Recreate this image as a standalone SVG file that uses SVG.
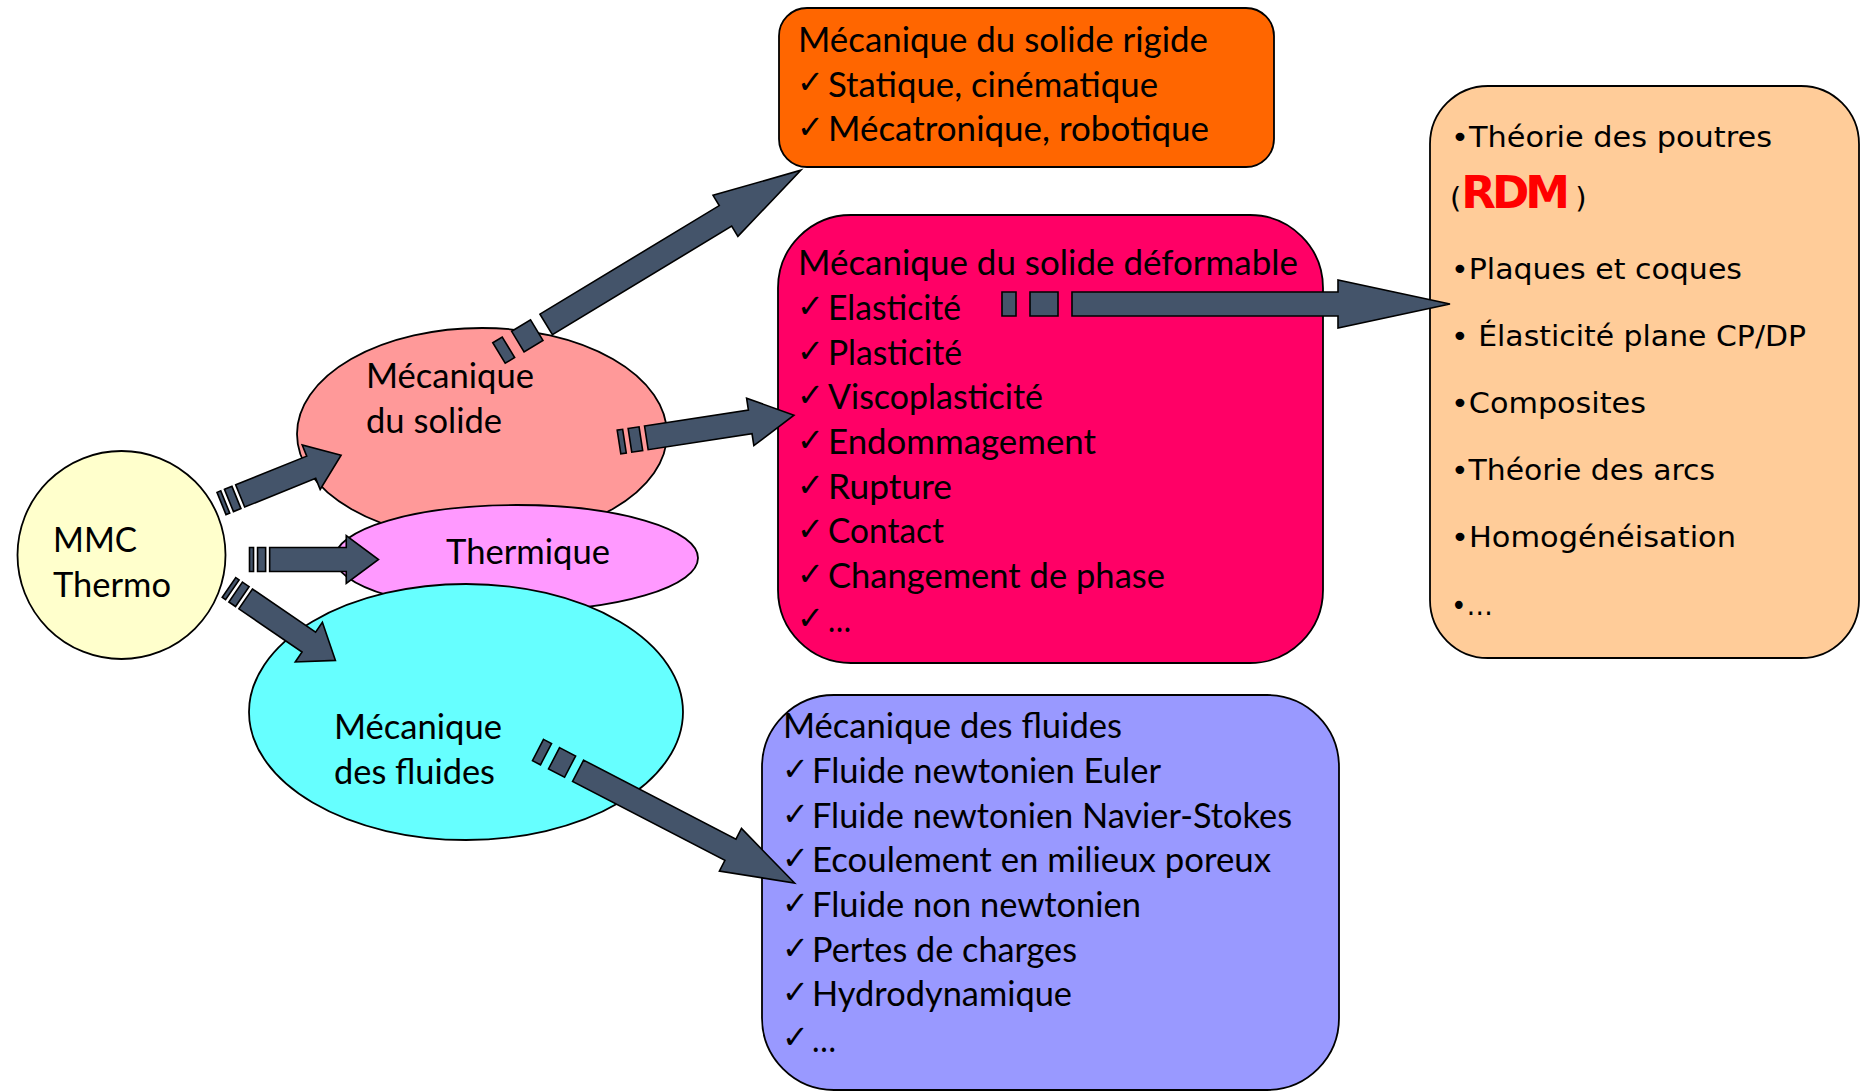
<svg xmlns="http://www.w3.org/2000/svg" width="1862" height="1091" viewBox="0 0 1862 1091">
<style>
.shape{stroke:#000;stroke-width:1.8}
.t{font-family:Lato,"Liberation Sans",sans-serif;font-size:34px;fill:#000}
.ck{font-family:"DejaVu Sans",sans-serif;font-size:32px;font-weight:bold;fill:#000}
.v{font-family:"DejaVu Sans",Verdana,sans-serif;font-size:29px;fill:#000}
.rdm{font-size:45px;font-weight:bold;fill:#FF0000;letter-spacing:-4px}
.arr{fill:#44546A;stroke:#000;stroke-width:1.6;stroke-linejoin:miter}
</style>
<rect width="1862" height="1091" fill="#FFFFFF"/>

<g id="node-solide">
<ellipse class="shape" cx="482" cy="434" rx="185" ry="106" fill="#FF9999"/>
<text class="t" x="366" y="388" textLength="168" lengthAdjust="spacingAndGlyphs">Mécanique</text>
<text class="t" x="366" y="433" textLength="136" lengthAdjust="spacingAndGlyphs">du solide</text>
</g>

<g id="node-thermique">
<ellipse class="shape" cx="516.5" cy="558" rx="181.5" ry="53" fill="#FF99FF"/>
<text class="t" x="446" y="564" textLength="164" lengthAdjust="spacingAndGlyphs">Thermique</text>
</g>

<g id="node-fluides">
<ellipse class="shape" cx="466" cy="712" rx="217" ry="128" fill="#66FFFF"/>
<text class="t" x="334" y="739" textLength="168" lengthAdjust="spacingAndGlyphs">Mécanique</text>
<text class="t" x="334" y="784" textLength="161" lengthAdjust="spacingAndGlyphs">des fluides</text>
</g>

<g id="node-mmc">
<ellipse class="shape" cx="121.5" cy="555" rx="104" ry="104" fill="#FFFFCC"/>
<text class="t" x="53" y="552" textLength="84" lengthAdjust="spacingAndGlyphs">MMC</text>
<text class="t" x="53" y="597" textLength="118" lengthAdjust="spacingAndGlyphs">Thermo</text>
</g>

<g id="node-rigide">
<rect class="shape" x="779" y="8" width="495" height="159" rx="28" ry="28" fill="#FF6600"/>
<text class="t" x="798" y="52" textLength="410" lengthAdjust="spacingAndGlyphs">Mécanique du solide rigide</text>
<text class="ck" x="797" y="93">✓</text>
<text class="t" x="828" y="96.5" textLength="330" lengthAdjust="spacingAndGlyphs">Statique, cinématique</text>
<text class="ck" x="797" y="138">✓</text>
<text class="t" x="828" y="141" textLength="381" lengthAdjust="spacingAndGlyphs">Mécatronique, robotique</text>
</g>

<g id="node-deformable">
<rect class="shape" x="778" y="215" width="545" height="448" rx="73" ry="73" fill="#FF0066"/>
<text class="t" x="798" y="275" textLength="500" lengthAdjust="spacingAndGlyphs">Mécanique du solide déformable</text>
<text class="ck" x="797" y="317">✓</text>
<text class="t" x="828" y="320" textLength="133" lengthAdjust="spacingAndGlyphs">Elasticité</text>
<text class="ck" x="797" y="361.5">✓</text>
<text class="t" x="828" y="364.5" textLength="134" lengthAdjust="spacingAndGlyphs">Plasticité</text>
<text class="ck" x="797" y="406">✓</text>
<text class="t" x="828" y="409" textLength="215" lengthAdjust="spacingAndGlyphs">Viscoplasticité</text>
<text class="ck" x="797" y="451">✓</text>
<text class="t" x="828" y="454" textLength="268" lengthAdjust="spacingAndGlyphs">Endommagement</text>
<text class="ck" x="797" y="495.5">✓</text>
<text class="t" x="828" y="498.5" textLength="124" lengthAdjust="spacingAndGlyphs">Rupture</text>
<text class="ck" x="797" y="540">✓</text>
<text class="t" x="828" y="543" textLength="116" lengthAdjust="spacingAndGlyphs">Contact</text>
<text class="ck" x="797" y="585">✓</text>
<text class="t" x="828" y="588" textLength="337" lengthAdjust="spacingAndGlyphs">Changement de phase</text>
<text class="ck" x="797" y="629">✓</text>
<text class="t" x="828" y="632" textLength="23" lengthAdjust="spacingAndGlyphs">…</text>
</g>

<g id="node-fluides-box">
<rect class="shape" x="762" y="695" width="577" height="395" rx="72" ry="72" fill="#9999FF"/>
<text class="t" x="783" y="738" textLength="339" lengthAdjust="spacingAndGlyphs">Mécanique des fluides</text>
<text class="ck" x="782" y="780">✓</text>
<text class="t" x="812" y="783" textLength="349" lengthAdjust="spacingAndGlyphs">Fluide newtonien Euler</text>
<text class="ck" x="782" y="824.5">✓</text>
<text class="t" x="812" y="827.5" textLength="480" lengthAdjust="spacingAndGlyphs">Fluide newtonien Navier-Stokes</text>
<text class="ck" x="782" y="869">✓</text>
<text class="t" x="812" y="872" textLength="459" lengthAdjust="spacingAndGlyphs">Ecoulement en milieux poreux</text>
<text class="ck" x="782" y="914">✓</text>
<text class="t" x="812" y="917" textLength="329" lengthAdjust="spacingAndGlyphs">Fluide non newtonien</text>
<text class="ck" x="782" y="958.5">✓</text>
<text class="t" x="812" y="961.5" textLength="265" lengthAdjust="spacingAndGlyphs">Pertes de charges</text>
<text class="ck" x="782" y="1003">✓</text>
<text class="t" x="812" y="1006" textLength="260" lengthAdjust="spacingAndGlyphs">Hydrodynamique</text>
<text class="ck" x="782" y="1048">✓</text>
<text class="t" x="812" y="1052" textLength="24" lengthAdjust="spacingAndGlyphs">…</text>
</g>

<g id="node-rdm">
<rect class="shape" x="1430" y="86" width="429" height="572" rx="58" ry="58" fill="#FFCC99"/>
<text class="v" x="1451" y="147" textLength="321" lengthAdjust="spacingAndGlyphs">•Théorie des poutres</text>
<text class="v" x="1450" y="208">(<tspan class="rdm">RDM</tspan><tspan dx="9">)</tspan></text>
<text class="v" x="1451" y="279" textLength="291" lengthAdjust="spacingAndGlyphs">•Plaques et coques</text>
<text class="v" x="1451" y="346" textLength="355" lengthAdjust="spacingAndGlyphs">• Élasticité plane CP/DP</text>
<text class="v" x="1451" y="413" textLength="195" lengthAdjust="spacingAndGlyphs">•Composites</text>
<text class="v" x="1451" y="480" textLength="264" lengthAdjust="spacingAndGlyphs">•Théorie des arcs</text>
<text class="v" x="1451" y="547" textLength="285" lengthAdjust="spacingAndGlyphs">•Homogénéisation</text>
<text class="v" x="1451" y="615" textLength="42" lengthAdjust="spacingAndGlyphs">•…</text>
</g>

<g id="connectors">
<g transform="translate(221.5,503.5) rotate(-22)">
<path class="arr" d="M0,-12h4.03v24h-4.03Z M8.06,-12h8.07v24h-8.07Z M20.16,-12H96.75V-24L129,0L96.75,24V12H20.16Z"/>
</g>
<g transform="translate(249.5,559.5)">
<path class="arr" d="M0,-12h4.03v24h-4.03Z M8.06,-12h8.07v24h-8.07Z M20.16,-12H96.75V-24L129,0L96.75,24V12H20.16Z"/>
</g>
<g transform="translate(229,587.5) rotate(34.4)">
<path class="arr" d="M0,-12h4.03v24h-4.03Z M8.06,-12h8.07v24h-8.07Z M20.16,-12H96.75V-24L129,0L96.75,24V12H20.16Z"/>
</g>
<g transform="translate(499,353) rotate(-31.2)">
<path class="arr" d="M0,-12h11.03v24h-11.03Z M22.06,-12h22.07v24h-22.07Z M55.16,-12H264.75V-24L353,0L264.75,24V12H55.16Z"/>
</g>
<g transform="translate(619,442) rotate(-8.7)">
<path class="arr" d="M0,-12h5.53v24h-5.53Z M11.06,-12h11.07v24h-11.07Z M27.66,-12H132.75V-24L177,0L132.75,24V12H27.66Z"/>
</g>
<g transform="translate(538,750) rotate(27.4)">
<path class="arr" d="M0,-12h9.03v24h-9.03Z M18.06,-12h18.07v24h-18.07Z M45.16,-12H216.75V-24L289,0L216.75,24V12H45.16Z"/>
</g>
<g transform="translate(1002,304)">
<path class="arr" d="M0,-12h14v24h-14Z M28,-12h28v24h-28Z M70,-12H336V-24L448,0L336,24V12H70Z"/>
</g>
</g>
</svg>
